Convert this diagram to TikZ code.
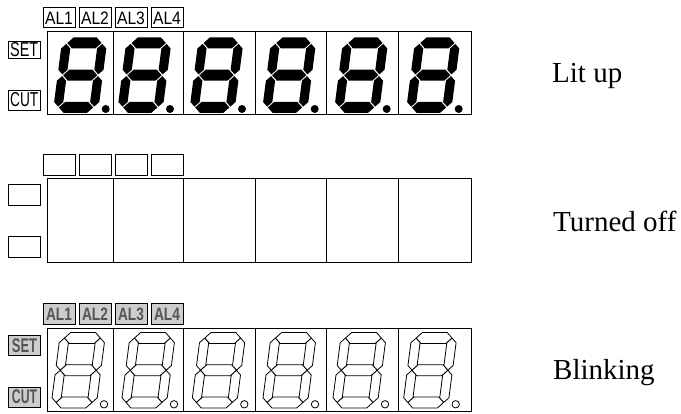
\documentclass[tikz,border=0pt]{standalone}
\usepackage{fontspec}
\setmainfont{Liberation Serif}
\newfontfamily\flagfont{Liberation Sans}
\definecolor{blurbg}{RGB}{205,205,205}
\definecolor{blurtx}{RGB}{85,85,85}
\newcommand{\segw}{4.6}
\newcommand{\segh}{5.5}
\newcommand{\hseg}[4]{(#1+#4,#3) -- (#1+#4+\segh,#3-\segh) -- (#2-#4-\segh,#3-\segh) -- (#2-#4,#3) -- (#2-#4-\segh,#3+\segh) -- (#1+#4+\segh,#3+\segh) -- cycle}
\newcommand{\vseg}[4]{(#1,#2+#4) -- (#1+\segw,#2+#4+\segw) -- (#1+\segw,#3-#4-\segw) -- (#1,#3-#4) -- (#1-\segw,#3-#4-\segw) -- (#1-\segw,#2+#4+\segw) -- cycle}
\newcommand{\digitsegs}[2]{%
  \path[#1] \hseg{0}{36}{0}{#2} \hseg{0}{36}{32.25}{#2} \hseg{0}{36}{64.5}{#2}
    \vseg{0}{0}{32.25}{#2} \vseg{36}{0}{32.25}{#2} \vseg{0}{32.25}{64.5}{#2} \vseg{36}{32.25}{64.5}{#2};
}
\tikzset{
  panel/.style={draw=black,line width=1pt},
  flag/.style={draw=black,line width=1pt,inner sep=0pt,anchor=north west,text height=13pt,text depth=0pt,font=\flagfont\fontsize{18}{18}\selectfont},
  blurflag/.style={flag,fill=blurbg,text=blurtx,font=\flagfont\bfseries\fontsize{18}{18}\selectfont},
  state/.style={anchor=base west,inner sep=0pt,font=\fontsize{29}{29}\selectfont},
}
\begin{document}
\begin{tikzpicture}[x=1pt,y=-1pt]
  \useasboundingbox (0,0) rectangle (681,414);
  % three panels, same cell borders
  \foreach \py/\ph in {31.5/83.5,178.5/84,328.5/83.5}{
    \draw[panel] (47,\py) rectangle (471.5,\py+\ph);
    \foreach \cx in {113.5,183.5,255.5,326.5,398.5}
      \draw[panel] (\cx,\py) -- (\cx,\py+\ph);
  }
  % lit digits
  \foreach \dx in {0,64.3,136.3,209,281,353}{
    \begin{scope}[shift={(66.4+\dx,43)},xslant=.13]
      \digitsegs{fill=black,draw=none}{.9}
    \end{scope}
    \fill (105.7+\dx,109) circle (4);
  }
  % blinking digits
  \foreach \dx in {0,70,140.3,211,281,351.7}{
    \begin{scope}[shift={(64.4+\dx,338)},xslant=.13]
      \digitsegs{draw=black,line width=.8pt,fill=white}{.1}
    \end{scope}
    \draw[line width=.8pt] (104+\dx,404.3) circle (3.7);
  }
  % flags, lit
  \foreach \nm/\fx/\lab in {a/42.5/AL1,b/78.5/AL2,c/114.5/AL3,d/150.5/AL4}{
    \node[flag,minimum width=32pt,minimum height=20.5pt] (lit\nm) at (\fx,7) {\scalebox{.87}[1]{\lab}};
    \node[flag,minimum width=32pt,minimum height=21pt] (off\nm) at (\fx,154) {};
    \node[blurflag,minimum width=32pt,minimum height=21pt] (blink\nm) at (\fx,303.5) {\scalebox{.76}[1]{\lab}};
  }
  \node[flag,minimum width=31.5pt,minimum height=17.5pt] (litset) at (8,41) {\scalebox{.8}[1.12]{SET}};
  \node[flag,minimum width=31.5pt,minimum height=20pt] (litcut) at (8,90) {\scalebox{.76}[1.12]{CUT}};
  \node[flag,minimum width=32pt,minimum height=21pt] (offset) at (8,184.5) {};
  \node[flag,minimum width=32pt,minimum height=20.5pt] (offcut) at (8,236.5) {};
  \node[blurflag,minimum width=32pt,minimum height=20.5pt] (blinkset) at (8,335) {\scalebox{.72}[1.1]{SET}};
  \node[blurflag,minimum width=32pt,minimum height=20pt] (blinkcut) at (8,387) {\scalebox{.68}[1.1]{CUT}};
  % states
  \node[state] (lit) at (552,83) {Lit up};
  \node[state] (off) at (553,232) {Turned off};
  \node[state] (blink) at (553,380) {Blinking};
\end{tikzpicture}
\end{document}
